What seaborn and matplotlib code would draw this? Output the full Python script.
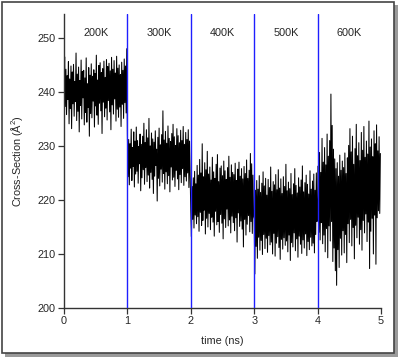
import numpy as np
import seaborn as sns
import matplotlib.pyplot as plt
from matplotlib.patches import Rectangle

# cross-section trace, sampled every 10 ps, one block per temperature
seg_200K = [241.0, 246.5, 237.3, 244.2, 235.8, 243.0, 238.6, 245.6, 234.1, 242.4,
            236.9, 244.8, 233.2, 243.7, 237.8, 245.1, 235.5, 241.9, 238.2, 247.2,
            234.7, 243.3, 236.4, 244.6, 232.6, 242.1, 237.5, 245.9, 235.0, 243.8,
            238.9, 244.0, 233.9, 242.6, 236.2, 246.3, 234.4, 241.5, 237.1, 244.5,
            231.8, 243.1, 236.0, 245.2, 235.2, 242.9, 238.3, 244.1, 233.5, 243.4,
            237.4, 246.8, 235.7, 242.2, 234.0, 244.9, 237.9, 245.4, 236.5, 243.6,
            232.3, 244.3, 238.1, 245.7, 235.4, 242.7, 237.0, 246.0, 234.8, 244.7,
            238.4, 245.3, 236.3, 243.9, 233.0, 246.4, 237.6, 244.2, 235.9, 245.8,
            238.7, 243.5, 234.6, 246.6, 236.8, 244.4, 235.3, 245.0, 237.2, 243.2,
            233.6, 245.5, 237.7, 244.0, 235.1, 246.1, 238.0, 244.8, 236.1, 248.0]
seg_300K = [232.0, 224.3, 231.2, 222.8, 230.4, 225.9, 233.1, 223.6, 229.7, 226.2,
            232.6, 222.4, 230.9, 224.8, 233.5, 225.3, 231.0, 223.1, 229.9, 226.7,
            232.2, 221.7, 230.3, 224.1, 231.8, 225.6, 234.2, 222.9, 230.6, 226.0,
            233.0, 223.4, 231.5, 224.6, 235.1, 222.2, 230.0, 225.1, 232.4, 223.8,
            231.3, 221.2, 230.7, 224.4, 232.8, 226.4, 229.4, 219.8, 231.6, 224.0,
            233.3, 222.6, 230.2, 225.7, 232.1, 223.3, 236.5, 224.9, 231.1, 222.0,
            232.7, 225.2, 230.5, 223.0, 233.7, 224.5, 231.4, 221.5, 230.8, 226.1,
            232.3, 223.7, 234.0, 224.2, 231.7, 222.5, 230.1, 225.5, 233.2, 223.9,
            231.9, 221.9, 230.6, 224.7, 232.9, 223.2, 231.0, 225.8, 233.6, 222.7,
            230.3, 224.3, 232.5, 223.5, 231.2, 225.0, 233.0, 222.3, 230.9, 224.6]
seg_400K = [218.0, 213.2, 222.5, 216.4, 224.1, 214.8, 225.3, 217.2, 223.0, 215.6,
            226.4, 216.9, 224.6, 214.2, 227.5, 217.7, 225.0, 215.3, 230.4, 216.2,
            224.3, 218.1, 226.9, 213.7, 225.6, 216.6, 229.0, 215.0, 224.8, 217.5,
            226.1, 214.5, 223.7, 216.8, 227.9, 215.9, 225.2, 213.3, 224.0, 217.9,
            226.6, 215.4, 228.4, 216.0, 223.4, 214.0, 225.9, 217.3, 226.3, 215.7,
            224.5, 212.8, 227.2, 216.5, 225.4, 214.9, 223.8, 218.3, 226.0, 215.2,
            228.1, 216.3, 224.2, 213.9, 226.5, 217.0, 225.1, 215.8, 224.7, 214.3,
            226.8, 216.7, 223.6, 212.2, 225.7, 217.6, 227.0, 215.1, 224.4, 216.1,
            225.8, 214.6, 223.9, 211.3, 226.2, 216.4, 224.9, 213.5, 227.4, 215.5,
            224.0, 217.1, 225.5, 214.1, 228.6, 216.0, 226.7, 213.8, 224.6, 216.9]
seg_500K = [216.5, 206.3, 221.8, 211.4, 223.6, 209.2, 222.0, 213.1, 224.5, 210.7,
            221.4, 212.5, 223.1, 209.9, 225.2, 213.6, 222.6, 211.0, 224.0, 212.9,
            220.9, 210.3, 223.8, 213.4, 222.3, 211.7, 226.1, 212.2, 221.6, 210.0,
            223.4, 213.8, 222.8, 209.6, 224.7, 212.0, 221.9, 213.2, 225.6, 211.2,
            222.2, 209.0, 223.9, 212.7, 221.2, 210.9, 224.3, 213.0, 222.5, 211.6,
            226.6, 212.4, 221.7, 210.4, 223.3, 213.5, 222.1, 208.8, 224.9, 212.1,
            221.0, 211.3, 223.0, 213.9, 225.8, 210.6, 222.7, 212.8, 221.3, 209.4,
            224.1, 213.3, 222.4, 211.8, 223.7, 210.1, 226.3, 212.6, 221.5, 211.1,
            223.2, 213.7, 224.6, 209.7, 222.9, 212.3, 221.1, 210.8, 225.4, 213.1,
            222.0, 211.5, 223.5, 212.0, 224.8, 210.2, 221.8, 213.6, 225.0, 216.0]
seg_600K = [218.5, 226.3, 214.0, 228.8, 212.6, 225.1, 215.8, 231.4, 211.9, 227.0,
            213.5, 229.7, 210.4, 226.5, 214.7, 232.2, 209.3, 228.1, 215.2, 231.0,
            212.4, 239.6, 216.0, 233.8, 208.6, 229.4, 211.1, 227.6, 206.9, 225.8,
            204.2, 226.9, 210.8, 224.4, 207.5, 228.3, 212.9, 225.5, 209.8, 227.2,
            214.3, 226.0, 210.2, 228.7, 213.6, 224.9, 208.4, 227.8, 215.6, 230.1,
            212.1, 233.2, 216.4, 228.9, 211.5, 231.8, 214.9, 226.6, 209.1, 229.5,
            215.3, 234.0, 213.0, 228.2, 216.8, 230.6, 211.8, 227.3, 214.5, 232.5,
            210.7, 229.2, 216.2, 233.6, 213.9, 227.9, 217.4, 230.9, 212.3, 228.5,
            215.9, 234.6, 207.3, 229.8, 214.2, 231.3, 216.6, 228.0, 210.0, 232.8,
            217.2, 230.4, 208.1, 233.9, 216.7, 229.1, 218.0, 231.7, 217.5, 228.6]

temps = ['200K', '300K', '400K', '500K', '600K']
boundaries = [1, 2, 3, 4]
dt = 0.01  # ns per sample

y = np.array(seg_200K + seg_300K + seg_400K + seg_500K + seg_600K)
t = np.arange(len(y)) * dt

sns.set_style('ticks')
plt.rcParams['font.family'] = ['Liberation Sans', 'DejaVu Sans']
plt.rcParams['mathtext.fontset'] = 'custom'
plt.rcParams['mathtext.rm'] = 'Liberation Sans'
plt.rcParams['mathtext.it'] = 'Liberation Sans:italic'

fig = plt.figure(figsize=(4.0, 3.58), dpi=100)
fig.patch.set_facecolor('white')
# framed box with drop shadow
fig.patches.append(Rectangle((5 / 400, 1 / 358), 393 / 400, 352 / 358, transform=fig.transFigure,
                             facecolor='#9a9a9a', edgecolor='none', zorder=-3))
fig.patches.append(Rectangle((1.5 / 400, 5.5 / 358), 392 / 400, 351 / 358, transform=fig.transFigure,
                             facecolor='white', edgecolor='#444444', lw=1.2, zorder=-2))

ax = fig.add_axes([0.16, 0.1397, 0.7925, 0.8223])
ax.set_facecolor('none')

sns.lineplot(x=t, y=y, ax=ax, color='black', lw=0.75, sort=False, estimator=None)
for b in boundaries:
    ax.axvline(b, color='#1f1fff', lw=1.0, zorder=3)
for i, name in enumerate(temps):
    ax.text(i + 0.5, 251.0, name, ha='center', va='center', fontsize=7.8)

ax.set_xlim(0, 5)
ax.set_ylim(200, 254.5)
ax.set_xticks([0, 1, 2, 3, 4, 5])
ax.set_yticks([200, 210, 220, 230, 240, 250])
ax.tick_params(axis='both', direction='out', length=4, width=0.9, color='#333333',
               labelsize=7.8, pad=2)
for s in ['left', 'bottom']:
    ax.spines[s].set_color('#333333')
    ax.spines[s].set_linewidth(1.0)
sns.despine(ax=ax)

ax.set_xlabel('time (ns)', fontsize=7.8, labelpad=7)
ax.set_ylabel('Cross-Section (Å$^2$)', fontsize=7.8, labelpad=9)

fig.savefig('out.png', dpi=100)
